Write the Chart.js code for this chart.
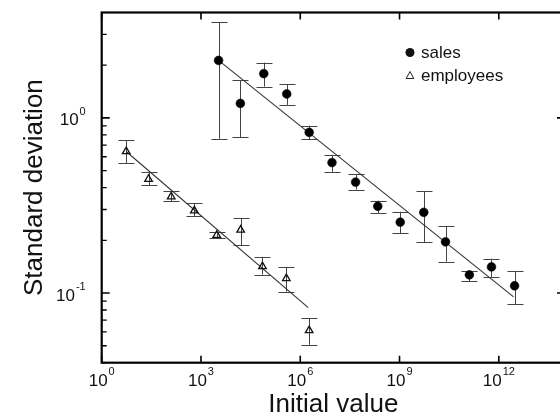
<!DOCTYPE html>
<html>
<head>
<meta charset="utf-8">
<script src="https://cdn.jsdelivr.net/npm/chart.js@4/dist/chart.umd.min.js"></script>
<style>
  html, body { margin: 0; padding: 0; background: #fff; overflow: hidden; }
  #wrap { width: 580px; height: 414px; }
</style>
</head>
<body>
<div id="wrap"><canvas id="chart" width="580" height="414"></canvas></div>
<script>
// sales (filled circles)
const salesX  = [3.4e3, 1.55e4, 7.9e4, 3.9e5, 1.86e6, 9.1e6, 4.7e7, 2.2e8, 1.05e9, 5.4e9, 2.45e10, 1.29e11, 6.0e11, 3.0e12];
const salesY  = [2.13, 1.21, 1.79, 1.37, 0.827, 0.556, 0.430, 0.313, 0.254, 0.289, 0.196, 0.127, 0.141, 0.110];
const salesLo = [0.76, 0.778, 1.51, 1.187, 0.758, 0.492, 0.390, 0.286, 0.220, 0.195, 0.151, 0.117, 0.1235, 0.0865];
const salesHi = [3.53, 1.64, 2.07, 1.558, 0.903, 0.616, 0.477, 0.337, 0.291, 0.382, 0.241, 0.134, 0.157, 0.133];

// employees (open triangles)
const empX  = [5.5, 26, 126, 630, 3.0e3, 1.58e4, 7.2e4, 3.8e5, 1.86e6];
const empY  = [0.643, 0.447, 0.355, 0.295, 0.214, 0.229, 0.142, 0.121, 0.0611];
const empLo = [0.552, 0.413, 0.334, 0.275, 0.206, 0.188, 0.1275, 0.102, 0.0506];
const empHi = [0.744, 0.488, 0.385, 0.326, 0.223, 0.267, 0.161, 0.141, 0.0719];

// fitted lines (end points)
const salesFitX = [3.4e3, 2.8e12];
const salesFitY = [2.13, 0.095];
const empFitX = [5.5, 1.74e6];
const empFitY = [0.643, 0.0825];

// axis labels
const xTickExps = [0, 3, 6, 9, 12];
const yTickExps = [-1, 0];
const yMinor = [0.04, 0.05, 0.06, 0.07, 0.08, 0.09, 0.2, 0.3, 0.4, 0.5, 0.6, 0.7, 0.8, 0.9, 2, 3];
const xTitle = 'Initial value';
const yTitle = 'Standard deviation';

const FONT = '"Liberation Sans", Arial, Helvetica, sans-serif';

const pts = (xs, ys) => xs.map((x, i) => ({ x: x, y: ys[i] }));

const errorBars = {
  id: 'errorBars',
  beforeDatasetsDraw(chart) {
    const ctx = chart.ctx;
    const xs = chart.scales.x, ys = chart.scales.y;
    ctx.save();
    ctx.strokeStyle = '#444';
    ctx.lineWidth = 1;
    chart.data.datasets.forEach(ds => {
      if (!ds.errLo) return;
      ds.data.forEach((p, i) => {
        const px = Math.round(xs.getPixelForValue(p.x)) + 0.5;
        const y1 = ys.getPixelForValue(ds.errLo[i]);
        const y2 = ys.getPixelForValue(ds.errHi[i]);
        ctx.beginPath();
        ctx.moveTo(px, y1); ctx.lineTo(px, y2);
        ctx.moveTo(px - 8, Math.round(y1) + 0.5); ctx.lineTo(px + 8, Math.round(y1) + 0.5);
        ctx.moveTo(px - 8, Math.round(y2) + 0.5); ctx.lineTo(px + 8, Math.round(y2) + 0.5);
        ctx.stroke();
      });
    });
    ctx.restore();
  }
};

const frame = {
  id: 'frame',
  afterDraw(chart) {
    const ctx = chart.ctx;
    const a = chart.chartArea;
    const xs = chart.scales.x, ys = chart.scales.y;
    ctx.save();
    ctx.strokeStyle = '#000';
    ctx.lineWidth = 2.2;
    ctx.strokeRect(a.left, a.top, a.right - a.left, a.bottom - a.top);

    // inward ticks
    ctx.lineWidth = 1.6;
    ctx.beginPath();
    xTickExps.forEach(e => {
      const px = xs.getPixelForValue(Math.pow(10, e));
      ctx.moveTo(px, a.bottom); ctx.lineTo(px, a.bottom - 7);
      ctx.moveTo(px, a.top); ctx.lineTo(px, a.top + 7);
    });
    yTickExps.forEach(e => {
      const py = ys.getPixelForValue(Math.pow(10, e));
      ctx.moveTo(a.left, py); ctx.lineTo(a.left + 8, py);
      ctx.moveTo(a.right, py); ctx.lineTo(a.right - 8, py);
    });
    ctx.stroke();
    ctx.lineWidth = 1.3;
    ctx.beginPath();
    yMinor.forEach(v => {
      const py = ys.getPixelForValue(v);
      ctx.moveTo(a.left, py); ctx.lineTo(a.left + 5, py);
      ctx.moveTo(a.right, py); ctx.lineTo(a.right - 5, py);
    });
    ctx.stroke();

    // tick labels, 10 with raised exponent
    ctx.fillStyle = '#111';
    ctx.textBaseline = 'alphabetic';
    const big = '17px ' + FONT, small = '11px ' + FONT;
    xTickExps.forEach(e => {
      const px = xs.getPixelForValue(Math.pow(10, e));
      ctx.font = big; const w1 = ctx.measureText('10').width;
      ctx.font = small; const w2 = ctx.measureText(String(e)).width;
      const x0 = px - (w1 + w2 + 1) / 2;
      ctx.font = big; ctx.textAlign = 'left';
      ctx.fillText('10', x0, a.bottom + 23.5);
      ctx.font = small;
      ctx.fillText(String(e), x0 + w1 + 1, a.bottom + 12.5);
    });
    yTickExps.forEach(e => {
      const py = ys.getPixelForValue(Math.pow(10, e));
      const exp = e < 0 ? '-' + (-e) : String(e);
      ctx.font = small; const w2 = ctx.measureText(exp).width;
      ctx.font = big; const w1 = ctx.measureText('10').width;
      const xr = a.left - 16;
      ctx.textAlign = 'left';
      ctx.fillText('10', xr - w2 - 1 - w1, py + 7.5);
      ctx.font = small;
      ctx.fillText(exp, xr - w2, py - 3);
    });

    // axis titles
    ctx.font = '26px ' + FONT;
    ctx.textAlign = 'center';
    ctx.fillText(xTitle, (a.left + a.right) / 2, 412);
    ctx.translate(42, (a.top + a.bottom) / 2);
    ctx.rotate(-Math.PI / 2);
    ctx.fillText(yTitle, 0, 0);
    ctx.restore();

    // legend
    ctx.save();
    ctx.font = '17px ' + FONT;
    ctx.fillStyle = '#111';
    ctx.textAlign = 'left';
    ctx.textBaseline = 'alphabetic';
    const s = chart.data.datasets[0], em = chart.data.datasets[1];
    ctx.beginPath();
    ctx.arc(410, 52.5, 4.5, 0, Math.PI * 2);
    ctx.fill();
    ctx.fillText(s.label, 421, 57.5);
    ctx.strokeStyle = '#222';
    ctx.lineWidth = 1;
    ctx.beginPath();
    ctx.moveTo(410, 71.5); ctx.lineTo(413.8, 78.5); ctx.lineTo(406.2, 78.5); ctx.closePath();
    ctx.stroke();
    ctx.fillText(em.label, 421, 80.5);
    ctx.restore();
  }
};

new Chart(document.getElementById('chart'), {
  type: 'scatter',
  data: {
    datasets: [
      {
        label: 'sales',
        data: pts(salesX, salesY),
        errLo: salesLo, errHi: salesHi,
        pointStyle: 'circle',
        pointRadius: 4.4,
        backgroundColor: '#000',
        borderColor: '#000',
        borderWidth: 0.5
      },
      {
        label: 'employees',
        data: pts(empX, empY),
        errLo: empLo, errHi: empHi,
        pointStyle: 'triangle',
        pointRadius: 4.4,
        backgroundColor: 'rgba(0,0,0,0)',
        borderColor: '#111',
        borderWidth: 1.3
      },
      {
        label: 'sales fit',
        data: pts(salesFitX, salesFitY),
        showLine: true,
        pointRadius: 0,
        borderColor: '#333',
        borderWidth: 1.1
      },
      {
        label: 'employees fit',
        data: pts(empFitX, empFitY),
        showLine: true,
        pointRadius: 0,
        borderColor: '#333',
        borderWidth: 1.1
      }
    ]
  },
  options: {
    responsive: false,
    devicePixelRatio: 1,
    animation: false,
    layout: { padding: { left: 0, top: 12.5, right: 15, bottom: 0 } },
    plugins: { legend: { display: false }, tooltip: { enabled: false } },
    scales: {
      x: {
        type: 'logarithmic', min: 1, max: 1e14,
        ticks: { display: false }, grid: { display: false }, border: { display: false },
        afterFit: s => { s.height = 51.3; }
      },
      y: {
        type: 'logarithmic', min: 0.04, max: 4,
        ticks: { display: false }, grid: { display: false }, border: { display: false },
        afterFit: s => { s.width = 101.7; }
      }
    }
  },
  plugins: [errorBars, frame]
});
</script>
</body>
</html>
